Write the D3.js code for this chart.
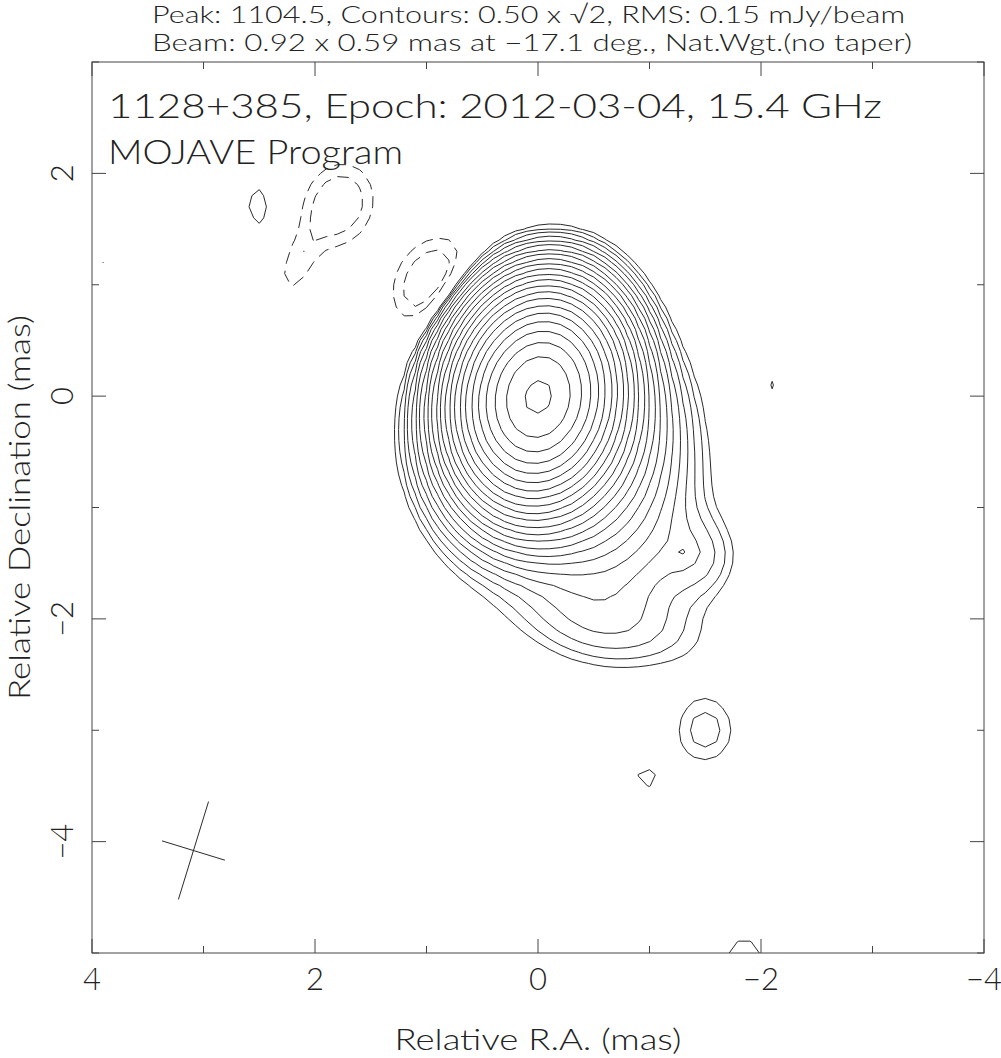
<!DOCTYPE html>
<html>
<head>
<meta charset="utf-8">
<script src="https://cdn.jsdelivr.net/npm/d3@7"></script>
<style>
  body { margin: 0; background: #fff; }
  text { font-family: Lato, Roboto, "DejaVu Sans", sans-serif; font-weight: 300; fill: #222; }
</style>
</head>
<body>
<svg id="map" width="1001" height="1058"></svg>
<script>
// header lines and labels
const titleLines = [
    'Peak: 1104.5, Contours: 0.50 x \u221A2, RMS: 0.15 mJy/beam',
    'Beam: 0.92 x 0.59 mas at \u221217.1 deg., Nat.Wgt.(no taper)'
];
const sourceLines = ['1128+385, Epoch: 2012-03-04, 15.4 GHz', 'MOJAVE Program'];
const xTicks = [4, 2, 0, -2, -4];
const yTicks = [2, 0, -2, -4];

// image model: elliptical gaussian components, restored with the beam
// RA / Dec in mas, peak in mJy/beam, FWHM in mas, PA in deg (N through E)
const compRA   = [0,     -0.2,  -0.7,  -0.65, -1.45, -1.3,  0.85,  -1.5,  -0.97, 2.5,  -2.1, 3.9,   -1.85, 1.79,  2.18,  0.95];
const compDec  = [0,     -0.45, -1.05, -2.05, -1.45, -1.4,  -0.75, -3.0,  -3.43, 1.7,  0.1,  1.2,   -5.0,  1.72,  1.15,  1.02];
const compPeak = [1085,  40,    3,     0.9,   0.9,   0.47,  0.8,   0.85,  0.55,  0.65, 0.51, 0.503, 0.58,  -1.0,  -0.6,  -1.1];
const compMaj  = [0.93,  1.1,   1.4,   1.5,   0.6,   0.15,  1.2,   0.6,   0.4,   0.56, 0.55, 0.3,   0.6,   0.74,  0.6,   0.8];
const compMin  = [0.72,  0.9,   1.0,   0.6,   0.55,  0.15,  0.6,   0.52,  0.4,   0.32, 0.3,  0.3,   0.5,   0.6,   0.3,   0.6];
const compPA   = [-12,   -30,   -10,   80,    0,     0,     20,    0,     0,     5,    0,    0,     90,    -20,   -20,   -30];

const baseLevel = 0.5, levelStep = Math.SQRT2, peakFlux = 1104.5;
const beam = {maj: 0.92, min: 0.59, pa: -17.1, ra: 3.09, dec: -4.08};

const W = 1001, H = 1058;
const margin = {left: 92, right: 17, top: 62, bottom: 105};

const svg = d3.select('#map');

const x = d3.scaleLinear().domain([4, -4]).range([margin.left, W - margin.right]);
const y = d3.scaleLinear().domain([3, -5]).range([margin.top, H - margin.bottom]);

// sample the model on a 0.1 mas grid (a bit larger than the window)
const step = 0.1, gRA0 = 4.6, gDec0 = 3.6, nx = 93, ny = 93;
const k = 4 * Math.LN2;
const grid = new Float64Array(nx * ny);
for (let j = 0; j < ny; j++) {
    const dec = gDec0 - j * step;
    for (let i = 0; i < nx; i++) {
        const ra = gRA0 - i * step;
        let v = 0;
        for (let c = 0; c < compRA.length; c++) {
            const t = compPA[c] * Math.PI / 180,
                dx = ra - compRA[c], dy = dec - compDec[c];
            const u = dx * Math.sin(t) + dy * Math.cos(t),
                w = dx * Math.cos(t) - dy * Math.sin(t);
            v += compPeak[c] * Math.exp(-k * (u * u / (compMaj[c] ** 2) + w * w / (compMin[c] ** 2)));
        }
        grid[i + j * nx] = v;
    }
}

const nLevels = Math.floor(Math.log(peakFlux / baseLevel) / Math.log(levelStep)) + 1;
const levels = d3.range(nLevels).map(n => baseLevel * levelStep ** n);
const negLevels = levels.slice(0, 2);

// grid coords -> pixels
const toPx = d3.geoTransform({
    point(gx, gy) {
        this.stream.point(x(gRA0 - (gx - 0.5) * step), y(gDec0 - (gy - 0.5) * step));
    }
});
const path = d3.geoPath(toPx);

svg.append('defs').append('clipPath').attr('id', 'frame')
    .append('rect')
    .attr('x', x(4)).attr('y', y(3))
    .attr('width', x(-4) - x(4)).attr('height', y(-5) - y(3));

const plot = svg.append('g').attr('clip-path', 'url(#frame)');

const pos = d3.contours().size([nx, ny]).thresholds(levels)(grid);
plot.selectAll('path.pos')
    .data(pos)
    .join('path')
    .attr('class', 'pos')
    .attr('d', path)
    .attr('fill', 'none')
    .attr('stroke', '#2a2a2a')
    .attr('stroke-width', 1);

const negGrid = grid.map(v => -v);
const neg = d3.contours().size([nx, ny]).thresholds(negLevels)(negGrid);
plot.selectAll('path.neg')
    .data(neg)
    .join('path')
    .attr('class', 'neg')
    .attr('d', path)
    .attr('fill', 'none')
    .attr('stroke', '#2a2a2a')
    .attr('stroke-width', 1)
    .attr('stroke-dasharray', '12,7');

// beam cross
const bt = beam.pa * Math.PI / 180;
const axes = [
    [beam.maj / 2 * Math.sin(bt), beam.maj / 2 * Math.cos(bt)],
    [beam.min / 2 * Math.cos(bt), -beam.min / 2 * Math.sin(bt)]
];
plot.selectAll('line.beam')
    .data(axes)
    .join('line')
    .attr('x1', d => x(beam.ra + d[0])).attr('y1', d => y(beam.dec + d[1]))
    .attr('x2', d => x(beam.ra - d[0])).attr('y2', d => y(beam.dec - d[1]))
    .attr('stroke', '#2a2a2a')
    .attr('stroke-width', 1);

// frame + ticks on all four sides
const frame = svg.append('g').attr('stroke', '#444').attr('stroke-width', 1).attr('fill', 'none');
frame.append('rect')
    .attr('x', x(4)).attr('y', y(3))
    .attr('width', x(-4) - x(4)).attr('height', y(-5) - y(3));

const xMinor = d3.range(-4, 5, 1), yMinor = d3.range(-5, 4, 1);
const tlen = v => (v % 2 === 0 ? 14 : 7);
xMinor.forEach(v => {
    frame.append('line').attr('x1', x(v)).attr('x2', x(v)).attr('y1', y(-5)).attr('y2', y(-5) - tlen(v));
    frame.append('line').attr('x1', x(v)).attr('x2', x(v)).attr('y1', y(3)).attr('y2', y(3) + tlen(v));
});
yMinor.forEach(v => {
    frame.append('line').attr('y1', y(v)).attr('y2', y(v)).attr('x1', x(4)).attr('x2', x(4) + tlen(v));
    frame.append('line').attr('y1', y(v)).attr('y2', y(v)).attr('x1', x(-4)).attr('x2', x(-4) - tlen(v));
});

const fmt = v => (v < 0 ? '\u2212' + Math.abs(v) : String(v));

svg.selectAll('text.xt')
    .data(xTicks)
    .join('text')
    .attr('class', 'xt')
    .attr('x', d => x(d))
    .attr('y', 990)
    .attr('text-anchor', 'middle')
    .style('font-size', '31px')
    .text(fmt);

svg.selectAll('text.yt')
    .data(yTicks)
    .join('text')
    .attr('class', 'yt')
    .attr('transform', d => `translate(73,${y(d)}) rotate(-90)`)
    .attr('text-anchor', 'middle')
    .style('font-size', '31px')
    .text(fmt);

svg.append('text')
    .attr('x', x(0)).attr('y', 1050)
    .attr('text-anchor', 'middle')
    .style('font-size', '30px')
    .attr('textLength', 287)
    .attr('lengthAdjust', 'spacingAndGlyphs')
    .text('Relative R.A. (mas)');

svg.append('text')
    .attr('transform', `translate(30,${(y(3) + y(-5)) / 2}) rotate(-90)`)
    .attr('text-anchor', 'middle')
    .style('font-size', '30px')
    .attr('textLength', 385)
    .attr('lengthAdjust', 'spacingAndGlyphs')
    .text('Relative Declination (mas)');

svg.selectAll('text.title')
    .data(titleLines)
    .join('text')
    .attr('class', 'title')
    .attr('x', 152)
    .attr('y', (d, i) => 23 + i * 28)
    .attr('textLength', (d, i) => [753, 760][i])
    .attr('lengthAdjust', 'spacingAndGlyphs')
    .style('font-size', '24px')
    .text(d => d);

svg.selectAll('text.src')
    .data(sourceLines)
    .join('text')
    .attr('class', 'src')
    .attr('x', 108)
    .attr('y', (d, i) => 118 + i * 46)
    .attr('textLength', (d, i) => [774, 295][i])
    .attr('lengthAdjust', 'spacingAndGlyphs')
    .style('font-size', '34px')
    .text(d => d);
</script>
</body>
</html>
